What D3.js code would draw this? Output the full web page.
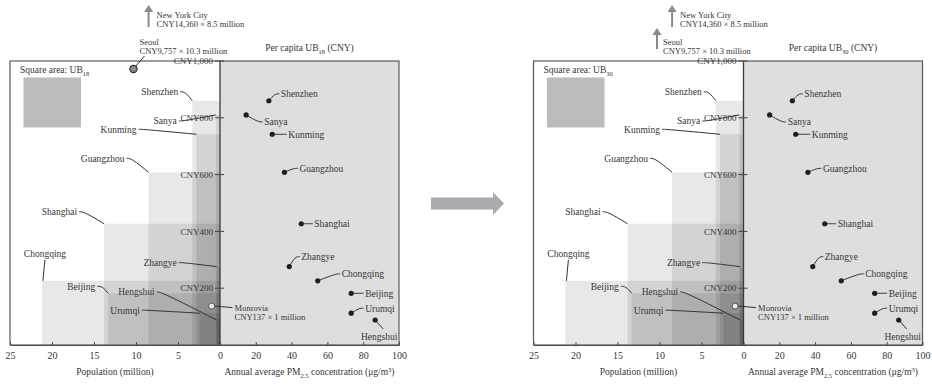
<!DOCTYPE html>
<html><head><meta charset="utf-8">
<script src="https://cdn.jsdelivr.net/npm/d3@7"></script>
<style>
html,body{margin:0;padding:0;background:#fff;}
svg{display:block;font-family:"Liberation Serif","Times New Roman",serif;}
</style></head><body>
<svg id="chart" width="932" height="385"></svg>
<script>
// Cities drawn in both panels
const cities      = ["Shenzhen","Sanya","Kunming","Guangzhou","Shanghai","Zhangye","Chongqing","Beijing","Urumqi","Hengshui"];
const population  = [3.3, 0.5, 2.8, 8.5, 13.8, 0.4, 21.2, 13.3, 2.4, 0.4];      // million
const perCapitaUB = [860, 810, 742, 608, 427, 276, 226, 182, 112, 88];          // CNY
const pm25        = [27.3, 14.6, 29.2, 36.0, 45.4, 38.7, 54.6, 73.3, 73.3, 86.7]; // µg/m³

// Reference cities outside China
const refNames      = ["New York City", "Seoul", "Monrovia"];
const refPerCapita  = [14360, 9757, 137];
const refPopulation = [8.5, 10.3, 1];

// Axis ticks
const popTicks = [25, 20, 15, 10, 5, 0];
const pmTicks  = [20, 40, 60, 80, 100];
const ubTicks  = [200, 400, 600, 800, 1000];

// Panels: UB subscript and how Seoul is marked
const panelYears   = ["18", "30"];
const seoulMarker  = ["dot", "arrow"];
const panelOffsetX = [0, 523.5];

// Label placement (offsets from the mark, in px)
const leftLabel = {
  Shenzhen: [-14, -9], Sanya: [-39, 6], Kunming: [-60, -5], Guangzhou: [-24, -14],
  Shanghai: [-27, -12], Zhangye: [-40, -4], Beijing: [-13, -7], Urumqi: [-60, -3],
  Hengshui: [-62, -28]
};
const rightLabel = {
  Shenzhen: [12, -7], Sanya: [18, 7], Kunming: [16, 0], Guangzhou: [15, -4],
  Shanghai: [13, 0], Zhangye: [12, -10], Chongqing: [24, -7], Beijing: [14, 0],
  Urumqi: [14, -5]
};

const svg = d3.select("#chart");
const ink = "#363636";
const fs = 9.5;

const xPop = d3.scaleLinear().domain([25, 0]).range([10, 220]);
const xPM  = d3.scaleLinear().domain([0, 100]).range([220, 399]);
const y    = d3.scaleLinear().domain([0, 1000]).range([345, 61]);
const fmt  = d3.format(",");

function subText(sel, parts) {
  // parts: [text, "sub"|"sup"|null]
  let shift = 0;
  parts.forEach(([t, kind]) => {
    const ts = sel.append("tspan").text(t);
    let target = kind === "sub" ? 2.5 : kind === "sup" ? -3.5 : 0;
    ts.attr("dy", target - shift);
    if (kind) ts.attr("font-size", 6.5);
    shift = target;
  });
}

function upArrow(g, x, yTip, yBase) {
  g.append("line").attr("x1", x).attr("x2", x).attr("y1", yTip + 5).attr("y2", yBase)
    .attr("stroke", "#8a8a8a").attr("stroke-width", 2);
  g.append("path").attr("d", `M${x - 4.5},${yTip + 7}L${x},${yTip}L${x + 4.5},${yTip + 7}Z`)
    .attr("fill", "#8a8a8a");
}

const idx = d3.range(cities.length);

panelYears.forEach((yr, p) => {
  const g = svg.append("g").attr("transform", `translate(${panelOffsetX[p]},0)`);

  // PM2.5 panel background
  g.append("rect").attr("x", xPM(0)).attr("y", y(1000))
    .attr("width", xPM(100) - xPM(0)).attr("height", y(0) - y(1000))
    .attr("fill", "#dedede");

  // UB rectangles: width = population, height = per capita UB
  g.selectAll("rect.ub").data(idx).join("rect").attr("class", "ub")
    .attr("x", i => xPop(population[i]))
    .attr("y", i => y(perCapitaUB[i]))
    .attr("width", i => xPop(0) - xPop(population[i]))
    .attr("height", i => y(0) - y(perCapitaUB[i]))
    .attr("fill", "#000").attr("fill-opacity", 0.09);

  // Frames
  g.append("rect").attr("x", xPop(25)).attr("y", y(1000))
    .attr("width", xPM(100) - xPop(25)).attr("height", y(0) - y(1000))
    .attr("fill", "none").attr("stroke", "#5a5a5a").attr("stroke-width", 1.2);
  g.append("line").attr("x1", xPM(0)).attr("x2", xPM(0)).attr("y1", y(1000)).attr("y2", y(0))
    .attr("stroke", "#3a3a3a").attr("stroke-width", 1.3);

  // Bottom axes
  const popAxis = d3.axisBottom(xPop).tickValues(popTicks).tickSizeInner(-3).tickSizeOuter(0).tickPadding(7);
  const pmAxis  = d3.axisBottom(xPM).tickValues(pmTicks).tickSizeInner(-3).tickSizeOuter(0).tickPadding(7);
  [popAxis, pmAxis].forEach(ax => {
    const a = g.append("g").attr("transform", `translate(0,${y(0)})`).call(ax);
    a.select(".domain").attr("stroke", "#4a4a4a").attr("stroke-width", 1.2);
    a.selectAll(".tick line").attr("stroke", "#4a4a4a");
    a.selectAll(".tick text").attr("fill", ink).attr("font-size", 10)
      .attr("font-family", "Liberation Serif");
  });

  // Per capita UB axis
  const ya = g.append("g");
  ubTicks.forEach(v => {
    ya.append("line").attr("x1", xPM(0) - 5).attr("x2", xPM(0) + 4)
      .attr("y1", y(v)).attr("y2", y(v)).attr("stroke", "#444");
    ya.append("text").attr("x", xPM(0) - 7).attr("y", y(v)).attr("dy", "0.35em")
      .attr("text-anchor", "end").attr("font-size", 9).attr("fill", ink)
      .text("CNY" + fmt(v));
  });

  // Axis titles
  g.append("text").attr("x", (xPop(25) + xPop(0)) / 2).attr("y", 375)
    .attr("text-anchor", "middle").attr("font-size", fs).attr("fill", ink)
    .text("Population (million)");
  subText(g.append("text").attr("x", (xPM(0) + xPM(100)) / 2).attr("y", 375)
    .attr("text-anchor", "middle").attr("font-size", fs).attr("fill", ink),
    [["Annual average PM", null], ["2.5", "sub"], [" concentration (μg/m", null], ["3", "sup"], [")", null]]);
  subText(g.append("text").attr("x", (xPM(0) + xPM(100)) / 2).attr("y", 51)
    .attr("text-anchor", "middle").attr("font-size", fs).attr("fill", ink),
    [["Per capita UB", null], [yr, "sub"], [" (CNY)", null]]);

  // Legend
  subText(g.append("text").attr("x", 20).attr("y", 73).attr("font-size", fs).attr("fill", ink),
    [["Square area: UB", null], [yr, "sub"]]);
  g.append("rect").attr("x", 23.5).attr("y", 77.5).attr("width", 57.5).attr("height", 50)
    .attr("fill", "#bcbcbc");

  // Leader lines and labels for rectangle corners
  const leader = d3.line().curve(d3.curveBasis);
  idx.forEach(i => {
    const ax = xPop(population[i]), ay = y(perCapitaUB[i]);
    const name = cities[i];
    if (name === "Chongqing") {
      g.append("path").attr("d", `M${ax + 3},${ay - 21}L${ax + 1},${ay}`)
        .attr("stroke", "#333").attr("fill", "none");
      g.append("text").attr("x", ax + 3).attr("y", ay - 27.5).attr("dy", "0.35em")
        .attr("text-anchor", "middle").attr("font-size", fs).attr("fill", ink).text(name);
      return;
    }
    const [dx, dy] = leftLabel[name];
    const tx = ax + dx, ty = ay + dy;
    g.append("path").attr("d", leader([[tx + 2, ty], [tx + 7, ty], [ax, ay]]))
      .attr("stroke", "#333").attr("stroke-width", 1).attr("fill", "none");
    g.append("text").attr("x", tx).attr("y", ty).attr("dy", "0.35em")
      .attr("text-anchor", "end").attr("font-size", fs).attr("fill", ink).text(name);
  });

  // PM2.5 scatter with labels
  idx.forEach(i => {
    const px = xPM(pm25[i]), py = y(perCapitaUB[i]);
    const name = cities[i];
    if (name === "Hengshui") {
      g.append("path").attr("d", `M${px},${py}L${px + 8},${py + 9}`)
        .attr("stroke", "#333").attr("fill", "none");
      g.append("text").attr("x", px + 4).attr("y", py + 17).attr("dy", "0.35em")
        .attr("text-anchor", "middle").attr("font-size", fs).attr("fill", ink).text(name);
    } else {
      const [dx, dy] = rightLabel[name];
      const tx = px + dx, ty = py + dy;
      g.append("path").attr("d", leader([[px, py], [tx - 6, ty], [tx - 1.5, ty]]))
        .attr("stroke", "#333").attr("stroke-width", 1).attr("fill", "none");
      g.append("text").attr("x", tx).attr("y", ty).attr("dy", "0.35em")
        .attr("font-size", fs).attr("fill", ink).text(name);
    }
    g.append("circle").attr("cx", px).attr("cy", py).attr("r", 2.6).attr("fill", "#1e1e1e");
  });

  // Reference cities
  refNames.forEach((name, k) => {
    const rx = xPop(refPopulation[k]);
    const caption = `CNY${fmt(refPerCapita[k])} × ${refPopulation[k]} million`;
    const label = name === "New York City" ? "New York City" : name;
    if (name === "Monrovia") {
      const ry = y(refPerCapita[k]);
      g.append("line").attr("x1", rx + 3).attr("x2", rx + 21).attr("y1", ry).attr("y2", ry + 1.5)
        .attr("stroke", "#333");
      g.append("circle").attr("cx", rx).attr("cy", ry).attr("r", 3)
        .attr("fill", "#eee").attr("stroke", "#555");
      const t = g.append("text").attr("x", rx + 23).attr("font-size", 8.5).attr("fill", ink);
      t.append("tspan").attr("x", rx + 23).attr("y", ry + 1.5).attr("dy", "0.35em").text(label);
      t.append("tspan").attr("x", rx + 23).attr("y", ry + 10.5).attr("dy", "0.35em").text(caption);
      return;
    }
    let yTip, yBase, tyTop;
    if (name === "New York City") {
      yTip = 5; yBase = 27; tyTop = 15;
      upArrow(g, rx, yTip, yBase);
    } else {
      tyTop = 42;
      if (seoulMarker[p] === "arrow") {
        upArrow(g, rx, 28, 49);
      } else {
        const cy = y(1000) + 8;
        g.append("line").attr("x1", rx).attr("y1", cy).attr("x2", rx + 11).attr("y2", cy - 13)
          .attr("stroke", "#333");
        g.append("circle").attr("cx", rx).attr("cy", cy).attr("r", 3.6)
          .attr("fill", "#8c8c8c").attr("stroke", "#333").attr("stroke-width", 1.2);
      }
    }
    const t = g.append("text").attr("font-size", 8.5).attr("fill", ink);
    const lx = rx + (name === "Seoul" ? 6 : 8);
    t.append("tspan").attr("x", lx).attr("y", tyTop).attr("dy", "0.35em").text(label);
    t.append("tspan").attr("x", lx).attr("y", tyTop + 9.5).attr("dy", "0.35em").text(caption);
  });
});

// Arrow between the two panels
svg.append("path")
  .attr("d", "M431,197.5H493V192L504,203.5L493,215V209.5H431Z")
  .attr("fill", "#a9abae");
</script>
</body></html>
